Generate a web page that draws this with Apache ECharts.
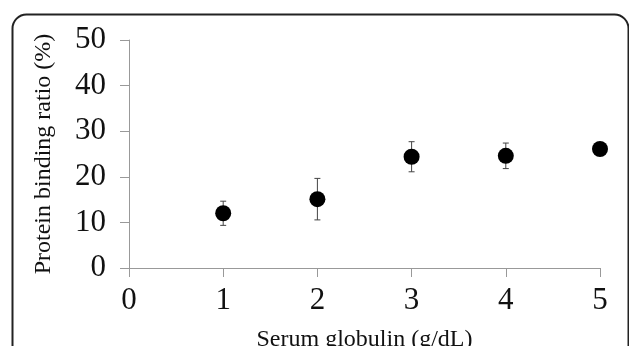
<!DOCTYPE html>
<html>
<head>
<meta charset="utf-8">
<script src="https://cdn.jsdelivr.net/npm/echarts@6/dist/echarts.min.js"></script>
<style>html,body{margin:0;padding:0;background:#fff;}#c{width:629px;height:346px;}</style>
</head>
<body>
<div id="c"></div>
<script>
var globulin = [1, 2, 3, 4, 5];
var bindingRatio = [12.0, 15.1, 24.4, 24.6, 26.1];
var errorSD = [2.65, 4.55, 3.3, 2.8, 0.5];
var xTicks = [0, 1, 2, 3, 4, 5];
var yTicks = [0, 10, 20, 30, 40, 50];

var pts = globulin.map(function (x, i) { return [x, bindingRatio[i]]; });
var errs = globulin.map(function (x, i) { return [x, bindingRatio[i] - errorSD[i], bindingRatio[i] + errorSD[i]]; });

var chart = echarts.init(document.getElementById('c'));
var font = 'Liberation Serif';
chart.setOption({
  animation: false,
  backgroundColor: '#fff',
  graphic: [{
    type: 'rect', left: 10, top: 12,
    shape: { width: 616, height: 400, r: 14 },
    style: { fill: 'none', stroke: '#222', lineWidth: 2 }
  }],
  grid: { left: 129, right: 29, top: 40, bottom: 78, containLabel: false, outerBoundsMode: 'none' },
  xAxis: {
    type: 'value', min: xTicks[0], max: xTicks[xTicks.length - 1], interval: 1,
    name: 'Serum globulin (g/dL)', nameLocation: 'middle', nameGap: 60,
    nameTextStyle: { fontFamily: font, fontSize: 24, color: '#111', verticalAlign: 'top' },
    axisLine: { lineStyle: { color: '#999', width: 1 } },
    axisTick: { show: true, inside: false, length: 9, lineStyle: { color: '#999' } },
    axisLabel: { fontFamily: font, fontSize: 31, color: '#111', margin: 17 },
    splitLine: { show: false }
  },
  yAxis: {
    type: 'value', min: yTicks[0], max: yTicks[yTicks.length - 1], interval: 10,
    name: 'Protein binding ratio (%)', nameLocation: 'middle', nameGap: 73,
    nameTextStyle: { fontFamily: font, fontSize: 24, color: '#111' },
    axisLine: { show: true, lineStyle: { color: '#999', width: 1 } },
    axisTick: { show: true, inside: false, length: 9, lineStyle: { color: '#999' } },
    axisLabel: { fontFamily: font, fontSize: 31, color: '#111', margin: 23 },
    splitLine: { show: false }
  },
  series: [{
    type: 'custom',
    data: errs,
    z: 1,
    renderItem: function (params, api) {
      var x = api.value(0);
      var lo = api.coord([x, api.value(1)]);
      var hi = api.coord([x, api.value(2)]);
      var w = 3;
      var st = { stroke: '#444', lineWidth: 1 };
      return {
        type: 'group',
        children: [
          { type: 'line', shape: { x1: lo[0], y1: lo[1], x2: hi[0], y2: hi[1] }, style: st },
          { type: 'line', shape: { x1: lo[0] - w, y1: lo[1], x2: lo[0] + w, y2: lo[1] }, style: st },
          { type: 'line', shape: { x1: hi[0] - w, y1: hi[1], x2: hi[0] + w, y2: hi[1] }, style: st }
        ]
      };
    }
  }, {
    type: 'scatter',
    data: pts,
    z: 2,
    symbol: 'circle',
    symbolSize: 16,
    itemStyle: { color: '#000', opacity: 1 }
  }]
});
</script>
</body>
</html>
